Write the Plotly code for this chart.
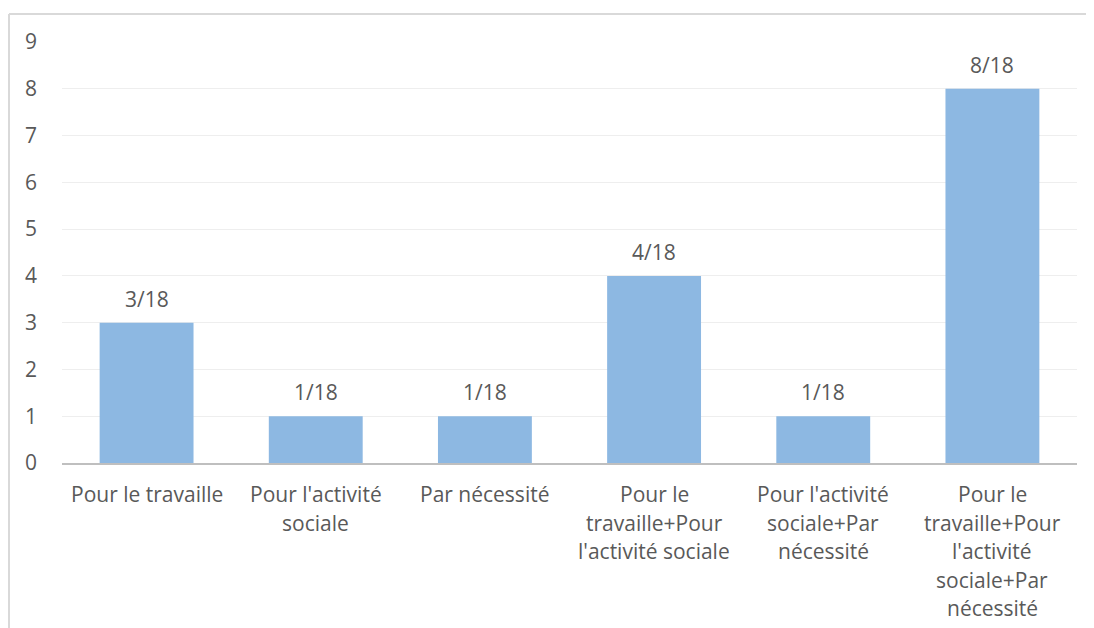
import plotly.graph_objects as go

categories = [
    "Pour le travaille",
    "Pour l'activité sociale",
    "Par nécessité",
    "Pour le travaille+Pour l'activité sociale",
    "Pour l'activité sociale+Par nécessité",
    "Pour le travaille+Pour l'activité sociale+Par nécessité",
]
category_lines = [
    ["Pour le travaille"],
    ["Pour l'activité", "sociale"],
    ["Par nécessité"],
    ["Pour le", "travaille+Pour", "l'activité sociale"],
    ["Pour l'activité", "sociale+Par", "nécessité"],
    ["Pour le", "travaille+Pour", "l'activité", "sociale+Par", "nécessité"],
]
values = [3, 1, 1, 4, 1, 8]
value_labels = ["3/18", "1/18", "1/18", "4/18", "1/18", "8/18"]
y_ticks = [0, 1, 2, 3, 4, 5, 6, 7, 8, 9]

# page body has an 8px offset; compensate so plot sits where the reference does
OFF = 8
W, H = 1094, 628
L, R, T, B = 62 - OFF, 17 + OFF, 42 - OFF, 165 + OFF
pw, ph = W - L - R, H - T - B

font_family = "Open Sans, Noto Sans, sans-serif"
text_color = "#595959"
fsize = 21

fig = go.Figure()
fig.add_trace(go.Bar(
    x=categories, y=values,
    marker=dict(color="#8DB8E2", line=dict(width=0)),
    width=0.555,
    hoverinfo="skip",
))

annotations = []
for c, v, lab in zip(categories, values, value_labels):
    annotations.append(dict(
        x=c, y=v, xref="x", yref="y", text=lab, showarrow=False,
        yanchor="middle", yshift=24,
        font=dict(family=font_family, size=fsize, color=text_color),
    ))
for c, lines in zip(categories, category_lines):
    for i, line in enumerate(lines):
        annotations.append(dict(
            x=c, y=0, xref="x", yref="y", text=line, showarrow=False,
            yanchor="middle", yshift=-(31 + i * 28.5),
            font=dict(family=font_family, size=fsize, color=text_color),
        ))

def px_x(p):
    return (p - OFF - L) / pw

def px_y(p):
    return (H - B - (p - OFF)) / ph

shapes = [
    dict(type="line", xref="paper", yref="paper",
         x0=px_x(9), x1=px_x(1086), y0=px_y(14), y1=px_y(14),
         line=dict(color="#D9D9D9", width=2)),
    dict(type="line", xref="paper", yref="paper",
         x0=px_x(9), x1=px_x(9), y0=px_y(14), y1=px_y(640),
         line=dict(color="#D9D9D9", width=2)),
]

fig.update_layout(
    width=W, height=H,
    margin=dict(l=L, r=R, t=T, b=B, autoexpand=False),
    paper_bgcolor="white", plot_bgcolor="white",
    showlegend=False,
    annotations=annotations,
    shapes=shapes,
    font=dict(family=font_family, size=fsize, color=text_color),
)
fig.update_xaxes(
    showticklabels=False, showgrid=False, ticks="",
    showline=True, linecolor="#BFBFBF", linewidth=2,
)
fig.update_yaxes(
    range=[0, 9], tickvals=y_ticks, showgrid=True, gridcolor="#EEEEEE", gridwidth=1,
    zeroline=False, showline=False, ticks="", ticklabelstandoff=24,
    tickfont=dict(family=font_family, size=fsize, color=text_color),
)

fig.write_html("out.html")
